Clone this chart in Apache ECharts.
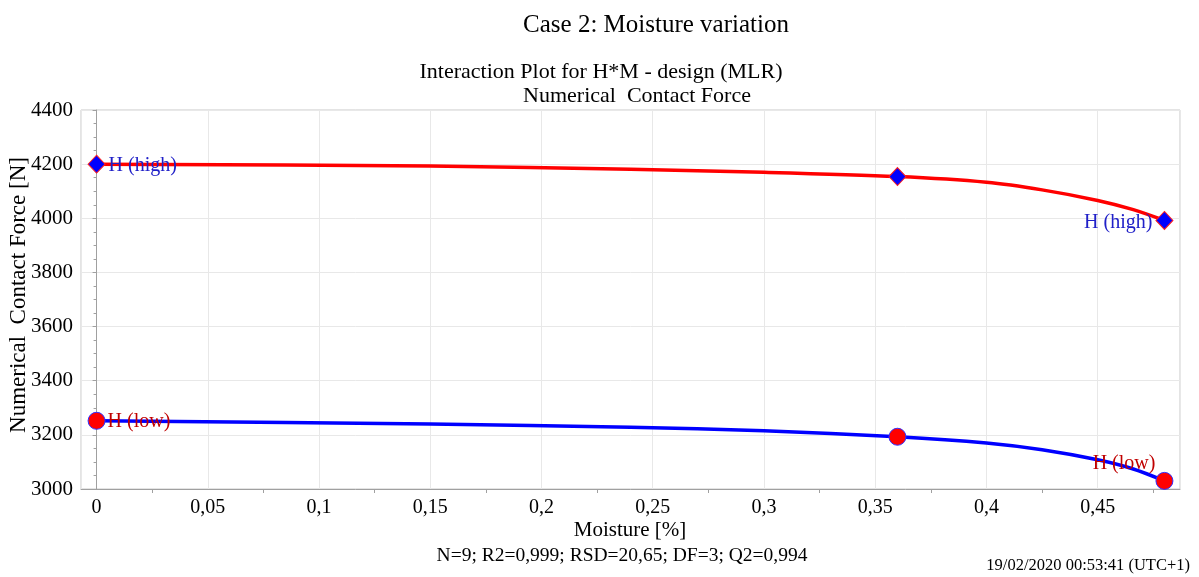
<!DOCTYPE html>
<html>
<head>
<meta charset="utf-8">
<script src="https://cdn.jsdelivr.net/npm/echarts@6/dist/echarts.min.js"></script>
<style>
html,body{margin:0;padding:0;background:#fff;}
#chart{width:1199px;height:577px;}
</style>
</head>
<body>
<div id="chart"></div>
<script>
// Design points (markers)
var designMoisture = [0, 0.36, 0.48];
var highPoints = [4200, 4154, 3992];
var lowPoints = [3252, 3193, 3030];
// Fitted curve values
var curveMoisture = [0, 0.15, 0.24, 0.3, 0.36, 0.4, 0.425, 0.45, 0.466, 0.48];
var highCurve = [4200, 4193, 4181, 4170, 4154, 4133, 4105, 4066, 4032, 3992];
var lowCurve = [3252, 3240, 3228, 3215, 3193, 3170, 3145, 3108, 3074, 3030];
var highLabel = 'H (high)';
var lowLabel = 'H (low)';

var FONT = '"Liberation Serif", "Times New Roman", serif';

function pairs(xs, ys) { return xs.map(function (x, i) { return [x, ys[i]]; }); }

var highMarks = pairs(designMoisture, highPoints).map(function (p, i) {
  var o = { value: p };
  if (i === 0) o.label = { show: true, position: 'right', distance: 3, offset: [0, 2] };
  if (i === designMoisture.length - 1) o.label = { show: true, position: 'left', distance: 3, offset: [0, 2] };
  return o;
});
var lowMarks = pairs(designMoisture, lowPoints).map(function (p, i) {
  var o = { value: p };
  if (i === 0) o.label = { show: true, position: 'right', distance: 2, offset: [0, 1] };
  if (i === designMoisture.length - 1) o.label = { show: true, position: 'left', distance: 0, offset: [0, -17] };
  return o;
});

var chart = echarts.init(document.getElementById('chart'), null, { renderer: 'canvas' });
chart.setOption({
  animation: false,
  backgroundColor: '#fff',
  textStyle: { fontFamily: FONT },
  title: [
    { text: 'Case 2: Moisture variation', left: 651, top: 8, textAlign: 'center',
      textStyle: { fontFamily: FONT, fontSize: 25, fontWeight: 'normal', color: '#000' } },
    { text: 'Interaction Plot for H*M - design (MLR)', left: 596, top: 56, textAlign: 'center',
      textStyle: { fontFamily: FONT, fontSize: 22, fontWeight: 'normal', color: '#000' } },
    { text: 'Numerical  Contact Force', left: 632, top: 80, textAlign: 'center',
      textStyle: { fontFamily: FONT, fontSize: 22, fontWeight: 'normal', color: '#000' } }
  ],
  grid: { left: 81, right: 19, top: 110, bottom: 88, show: true, borderColor: '#c8c8c8', borderWidth: 1, containLabel: false },
  xAxis: {
    type: 'value', min: -0.007, max: 0.487, splitNumber: 10,
    axisLine: { show: true, lineStyle: { color: '#a0a0a0', width: 1 } },
    axisTick: { show: false },
    minorTick: { show: true, splitNumber: 2, length: 4, lineStyle: { color: '#a0a0a0' } },
    axisLabel: { show: true, showMinLabel: false, showMaxLabel: false, margin: 9,
      fontFamily: FONT, fontSize: 20, color: '#000',
      formatter: function (v) { return String(+v.toFixed(4)).replace('.', ','); } },
    splitLine: { show: true, lineStyle: { color: '#e8e8e8', width: 1 } }
  },
  yAxis: {
    type: 'value', min: 3000, max: 4400, interval: 200,
    axisLine: { show: true, lineStyle: { color: '#a0a0a0', width: 1 } },
    axisTick: { show: true, inside: false, length: 4, lineStyle: { color: '#a0a0a0' } },
    minorTick: { show: true, splitNumber: 4, length: 3, lineStyle: { color: '#a0a0a0' } },
    axisLabel: { margin: 8, fontFamily: FONT, fontSize: 21, color: '#000',
      formatter: function (v) { return String(v); } },
    splitLine: { show: true, lineStyle: { color: '#e8e8e8', width: 1 } }
  },
  graphic: [
    { type: 'text', x: 19, y: 295, rotation: Math.PI / 2,
      style: { text: 'Numerical  Contact Force [N]', fontFamily: FONT, fontSize: 23, fill: '#000',
        textAlign: 'center', textVerticalAlign: 'middle' } },
    { type: 'text', x: 630, y: 530,
      style: { text: 'Moisture [%]', fontFamily: FONT, fontSize: 21, fill: '#000',
        textAlign: 'center', textVerticalAlign: 'middle' } },
    { type: 'text', x: 622, y: 556,
      style: { text: 'N=9; R2=0,999; RSD=20,65; DF=3; Q2=0,994', fontFamily: FONT, fontSize: 19.5, fill: '#000',
        textAlign: 'center', textVerticalAlign: 'middle' } },
    { type: 'text', x: 1190, y: 566,
      style: { text: '19/02/2020 00:53:41 (UTC+1)', fontFamily: FONT, fontSize: 16.5, fill: '#000',
        textAlign: 'right', textVerticalAlign: 'middle' } }
  ],
  series: [
    { type: 'line', name: 'high curve', data: pairs(curveMoisture, highCurve), smooth: 0.3,
      symbol: 'none', lineStyle: { color: '#ff0000', width: 3.5 }, z: 2 },
    { type: 'line', name: 'low curve', data: pairs(curveMoisture, lowCurve), smooth: 0.3,
      symbol: 'none', lineStyle: { color: '#0000ff', width: 3.5 }, z: 2 },
    { type: 'scatter', name: highLabel, data: highMarks, symbol: 'diamond', symbolSize: [17, 18],
      itemStyle: { color: '#0000ff', borderColor: '#ff2020', borderWidth: 1, opacity: 1 },
      label: { show: false, formatter: highLabel, fontFamily: FONT, fontSize: 20, color: '#2020c8' }, z: 3 },
    { type: 'scatter', name: lowLabel, data: lowMarks, symbol: 'circle', symbolSize: 17,
      itemStyle: { color: '#ff0000', borderColor: '#3030ff', borderWidth: 1, opacity: 1 },
      label: { show: false, formatter: lowLabel, fontFamily: FONT, fontSize: 20, color: '#c00000' }, z: 3 }
  ]
});
</script>
</body>
</html>
